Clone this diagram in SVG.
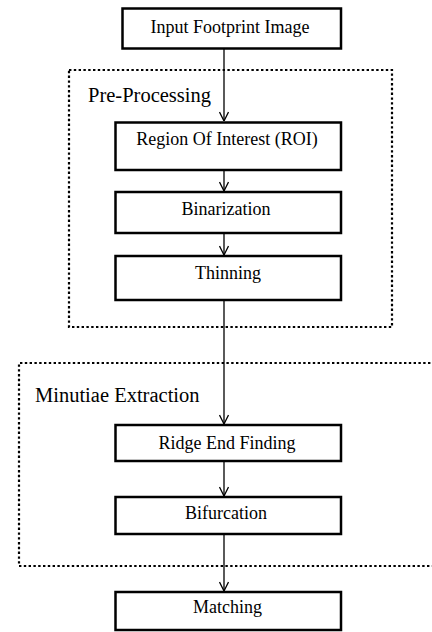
<svg xmlns="http://www.w3.org/2000/svg" width="432" height="632" viewBox="0 0 432 632">
<defs>
<marker id="arr" viewBox="0 0 10 10" refX="10" refY="5" markerWidth="10" markerHeight="10" markerUnits="userSpaceOnUse" orient="auto">
<path d="M1,0.5 L10,5 L1,9.5" fill="none" stroke="#000" stroke-width="1.3"/>
</marker>
<style>
.box{fill:#fff;stroke:#000;stroke-width:2.5}
.grp{fill:none;stroke:#000;stroke-width:2.2;stroke-dasharray:2.4 2.4}
.lbl{font-size:18px;fill:#000;text-anchor:middle}
.glbl{font-size:20.5px;fill:#000}
.conn{stroke:#000;stroke-width:1.3;fill:none}
</style>
</defs>
<rect width="432" height="632" fill="#fff"/>
<g font-family="'Liberation Serif', 'DejaVu Serif', serif">
<g id="preprocessing">
<rect class="grp" x="69" y="70" width="323" height="257"/>
<text class="glbl" x="88" y="102">Pre-Processing</text>
</g>
<g id="minutiae">
<path class="grp" d="M440,363 H19 V566 H440"/>
<text class="glbl" x="35" y="402">Minutiae Extraction</text>
</g>
<g id="connectors">
<line class="conn" x1="224" y1="49" x2="224" y2="121" marker-end="url(#arr)"/>
<line class="conn" x1="224" y1="171" x2="224" y2="191" marker-end="url(#arr)"/>
<line class="conn" x1="224" y1="234" x2="224" y2="255" marker-end="url(#arr)"/>
<line class="conn" x1="224" y1="301" x2="224" y2="424" marker-end="url(#arr)"/>
<line class="conn" x1="224" y1="462" x2="224" y2="496" marker-end="url(#arr)"/>
<line class="conn" x1="224" y1="535" x2="224" y2="591" marker-end="url(#arr)"/>
</g>
<g id="input">
<rect class="box" x="122.5" y="8.5" width="218.5" height="40"/>
<text class="lbl" x="230" y="32.5">Input Footprint Image</text>
</g>
<g id="roi">
<rect class="box" x="115.5" y="122.5" width="225.5" height="47.5"/>
<text class="lbl" x="227" y="145">Region Of Interest (ROI)</text>
</g>
<g id="binarization">
<rect class="box" x="115.5" y="192" width="225.5" height="41"/>
<text class="lbl" x="226" y="215">Binarization</text>
</g>
<g id="thinning">
<rect class="box" x="115.5" y="256" width="225.5" height="44"/>
<text class="lbl" x="228" y="279">Thinning</text>
</g>
<g id="ridge">
<rect class="box" x="115.5" y="425" width="225.5" height="36"/>
<text class="lbl" x="227" y="448.5">Ridge End Finding</text>
</g>
<g id="bifurcation">
<rect class="box" x="115.5" y="497" width="225.5" height="37"/>
<text class="lbl" x="226" y="519">Bifurcation</text>
</g>
<g id="matching">
<rect class="box" x="115.5" y="592" width="225.5" height="38"/>
<text class="lbl" x="227.5" y="613">Matching</text>
</g>
</g>
</svg>
